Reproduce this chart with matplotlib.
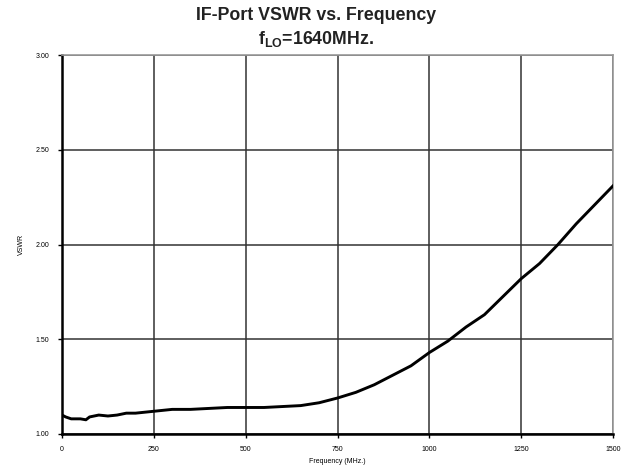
import matplotlib
matplotlib.use("Agg")
import matplotlib.pyplot as plt

plt.rcParams['font.family'] = ['Liberation Sans', 'DejaVu Sans']
plt.rcParams['mathtext.fontset'] = 'custom'
plt.rcParams['mathtext.rm'] = 'Liberation Sans'
plt.rcParams['mathtext.bf'] = 'Liberation Sans:bold'

# frekvens (MHz) og målt VSWR, lest av figuren
frekvens = [0, 10, 25, 50, 65, 75, 100, 125, 150, 175, 200, 250, 300, 350, 400,
            450, 500, 550, 600, 650, 700, 750, 800, 850, 900, 950, 1000, 1050,
            1100, 1150, 1200, 1250, 1300, 1350, 1400, 1450, 1500]
vswr = [1.10, 1.09, 1.08, 1.08, 1.075, 1.09, 1.10, 1.095, 1.10, 1.11, 1.11, 1.12,
        1.13, 1.13, 1.135, 1.14, 1.14, 1.14, 1.145, 1.15, 1.165, 1.19, 1.22, 1.26,
        1.31, 1.36, 1.43, 1.49, 1.565, 1.63, 1.725, 1.82, 1.90, 2.00, 2.11, 2.21, 2.31]

xticks = [0, 250, 500, 750, 1000, 1250, 1500]
yticks = [1.00, 1.50, 2.00, 2.50, 3.00]

fig = plt.figure(figsize=(6.29, 4.70), dpi=100)
ax = fig.add_axes([0.0986, 0.0766, 0.876, 0.806])

ax.plot(frekvens, vswr, color='black', linewidth=2.1, zorder=3)

ax.set_xlim(0, 1500)
ax.set_ylim(1.0, 3.0)
ax.set_xticks(xticks)
ax.set_xticklabels([str(t) for t in xticks])
ax.set_yticks(yticks)
ax.set_yticklabels([f"{t:.2f}" for t in yticks])
ax.tick_params(axis='both', labelsize=5, length=3, width=1, direction='out', pad=6)
ax.grid(True, color='#333333', linewidth=1.1)

ax.spines['left'].set_linewidth(1.8)
ax.spines['bottom'].set_linewidth(1.8)
ax.spines['top'].set_color('#999999')
ax.spines['right'].set_color('#999999')
ax.spines['top'].set_linewidth(1.2)
ax.spines['right'].set_linewidth(1.2)

ax.set_xlabel("Frequency (MHz.)", fontsize=5, labelpad=3)
ax.set_ylabel("VSWR", fontsize=5, labelpad=8)

fig.text(0.503, 0.966, "IF-Port VSWR vs. Frequency", ha='center', va='center',
         fontsize=12.8, fontweight='bold', color='#222222')
fig.text(0.503, 0.918, r"$\mathbf{f}_{\mathbf{LO}}$=1640MHz.", ha='center', va='center',
         fontsize=12.8, fontweight='bold', color='#222222')

fig.savefig("out.png", dpi=100)
